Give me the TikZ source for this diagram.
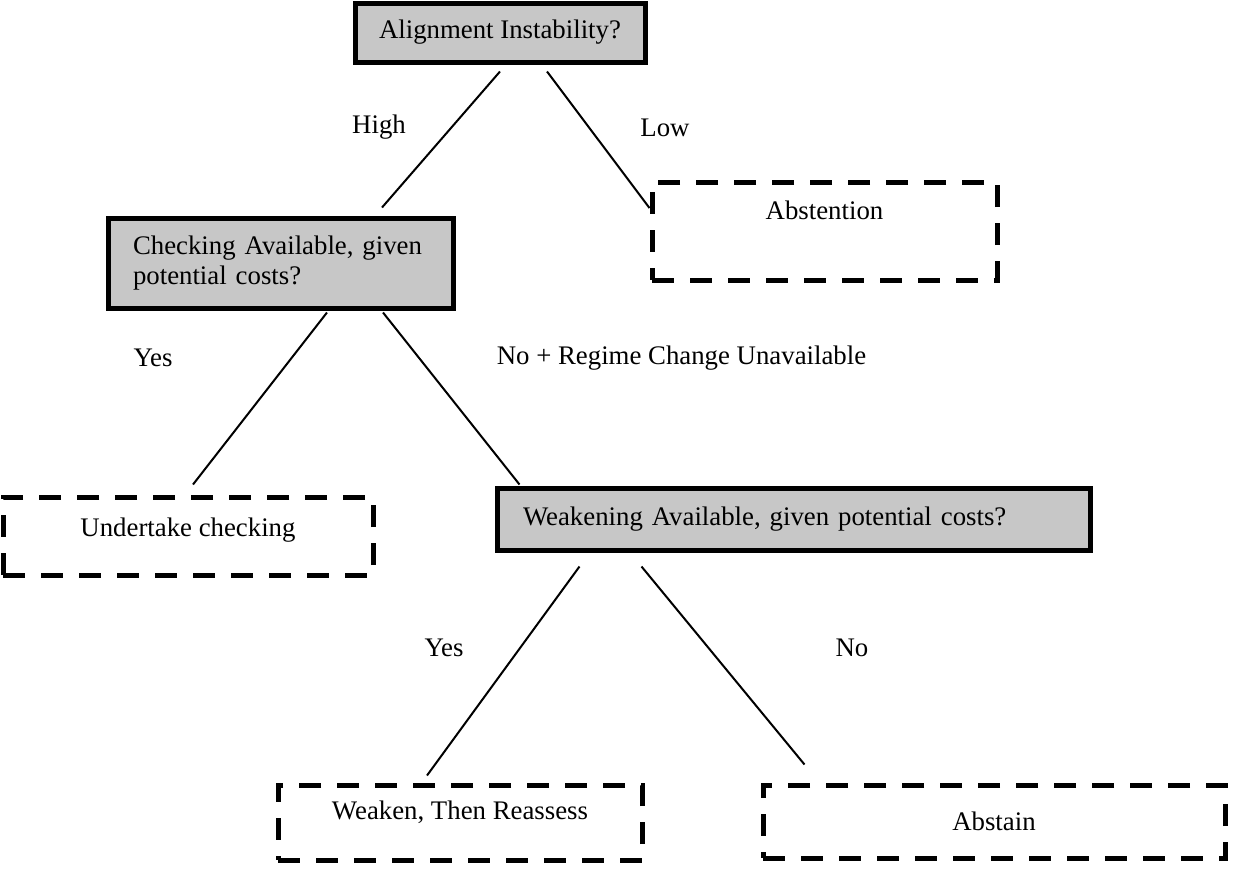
\documentclass[tikz,border=0pt]{standalone}
\usepackage{fontspec}
\setmainfont{Liberation Serif}
\usetikzlibrary{calc}
\newcommand{\treefont}{\fontsize{13.4}{15}\selectfont}

\begin{document}
\begin{tikzpicture}[x=0.5pt,y=-0.5pt]
\useasboundingbox (0,0) rectangle (1233,869);

% 1. Stile definieren
\tikzset{
  question/.style={
    draw,
    line width=2.5pt,
    fill=black!22,
    inner sep=0pt,
    font=\treefont
  },
  outcome/.style={
    draw,
    line width=2.5pt,
    dash pattern=on 11pt off 8pt,
    inner sep=0pt,
    font=\treefont
  },
  branch/.style={line width=1pt},
  choice/.style={inner sep=0pt, font=\treefont}
}

% 2. Fragen (graue Kaesten)
\node [question, minimum width=145pt, minimum height=29.5pt] (q1) at (500,32.5) {Alignment Instability?};
\node [question, text width=147.5pt, inner xsep=12.5pt, minimum height=45pt, align=left] (q2) at (280.5,263) {Checking Available, given potential costs?};
\node [question, text width=270.5pt, inner xsep=13pt, minimum height=31pt, align=left] (q3) at (793.5,519) {Weakening Available, given potential costs?};

% 3. Ergebnisse (gestrichelte Kaesten)
\node [outcome, minimum width=172.5pt, minimum height=49pt, text depth=21pt] (a1) at (824.5,231) {Abstention};
\node [outcome, minimum width=185pt, minimum height=39pt, text depth=9pt] (a2) at (188,536) {Undertake checking};
\node [outcome, minimum width=182pt, minimum height=37.5pt, text depth=12pt] (a3) at (460,822.5) {Weaken, Then Reassess};
\node [outcome, minimum width=231pt, minimum height=36.5pt] (a4) at (994,821.5) {Abstain};

% 4. Beschriftungen der Aeste
\node [choice] (lhigh) at (379,127) {High};
\node [choice] (llow) at (665,128) {Low};
\node [choice] (lyes1) at (153,358) {Yes};
\node [choice] (lno1) at (681.5,358) {No + Regime Change Unavailable};
\node [choice] (lyes2) at (444,648) {Yes};
\node [choice] (lno2) at (852,648) {No};

% 5. Aeste zeichnen
\draw [branch] ($(q1.south)+(0,7)$) -- ($(q2.north)+(101.5,-8)$);
\draw [branch] ($(q1.south)+(47,7)$) -- ($(a1.west)+(0,-23)$);
\draw [branch] ($(q2.south)+(46.5,2)$) -- ($(a2.north)+(5,-10)$);
\draw [branch] ($(q2.south)+(102.5,2)$) -- ($(q3.north west)+(25,-1)$);
\draw [branch] ($(q3.south west)+(85,14)$) -- ($(a3.north)+(-33,-7)$);
\draw [branch] ($(q3.south west)+(147,14)$) -- ($(a4.north west)+(44,-18)$);

\end{tikzpicture}
\end{document}
